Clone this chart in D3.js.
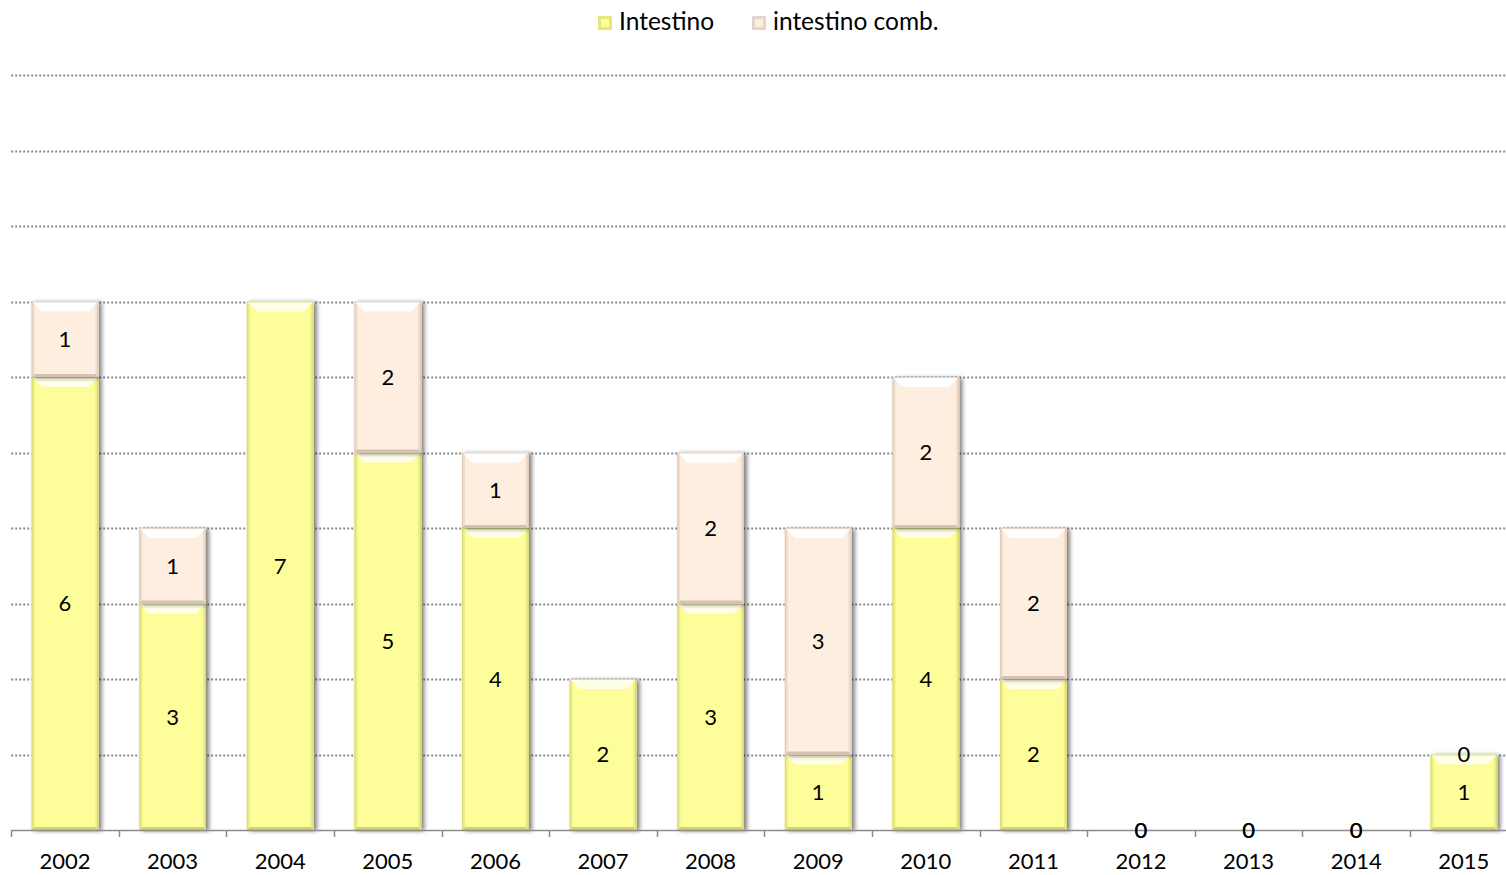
<!DOCTYPE html>
<html>
<head>
<meta charset="utf-8">
<script src="https://cdn.jsdelivr.net/npm/d3@7"></script>
<style>
  html, body { margin: 0; padding: 0; background: #fff; }
  svg text { font-family: Lato, "Open Sans", sans-serif; fill: #000; }
</style>
</head>
<body>
<svg id="chart" width="1506" height="875"></svg>
<script>
// Yearly counts
const years = ["2002","2003","2004","2005","2006","2007","2008","2009","2010","2011","2012","2013","2014","2015"];
const intestino = [6, 3, 7, 5, 4, 2, 3, 1, 4, 2, 0, 0, 0, 1];
const intestinoComb = [1, 1, null, 2, 1, null, 2, 3, 2, 2, 0, 0, 0, 0];
const seriesNames = ["Intestino", "intestino comb."];
const yTicks = [0, 1, 2, 3, 4, 5, 6, 7, 8, 9, 10];

(function () {
const svg = d3.select("#chart");
const plotLeft = 11.2, plotRight = 1517.6, plotBottom = 830, plotTop = 75;

const x = d3.scaleBand().domain(years).range([plotLeft, plotRight]).paddingInner(0.38).paddingOuter(0.19);
const y = d3.scaleLinear().domain([0, 10]).range([plotBottom, plotTop]);

const styles = [
  { base: "#fdfd9a", light: "#ffffe8", side: "#ecec86", dark: "#d2d26a", legend: "#e6e67a" },
  { base: "#fdeee0", light: "#ffffff", side: "#efdccb", dark: "#d6c0ae", legend: "#e2d5cc" }
];

// gridlines
svg.append("g").selectAll("line").data(yTicks.filter(d => d > 0)).join("line")
  .attr("x1", plotLeft).attr("x2", 1506)
  .attr("y1", d => Math.round(y(d)) + 0.5).attr("y2", d => Math.round(y(d)) + 0.5)
  .attr("stroke", "#8a8a8a").attr("stroke-width", 2).attr("stroke-dasharray", "2,2");

// stacked data
const stackRows = years.map((yr, i) => ({ year: yr, a: intestino[i], b: intestinoComb[i] || 0 }));
const stacked = d3.stack().keys(["a", "b"])(stackRows);

const defs = svg.append("defs");
const shadow = defs.append("filter").attr("id", "shadow").attr("x", "-20%").attr("y", "-20%").attr("width", "140%").attr("height", "140%");
shadow.append("feGaussianBlur").attr("in", "SourceAlpha").attr("stdDeviation", 2);
shadow.append("feOffset").attr("dx", 2.5).attr("dy", 1).attr("result", "ob");
shadow.append("feComponentTransfer").append("feFuncA").attr("type", "linear").attr("slope", 0.5);
const merge = shadow.append("feMerge");
merge.append("feMergeNode");
merge.append("feMergeNode").attr("in", "SourceGraphic");

// beveled bar segment
function bevel(g, x0, y0, w, h, st) {
  if (h <= 0) return;
  const b = Math.min(10, h / 2.5), s = 3;
  const seg = g.append("g").attr("filter", "url(#shadow)");
  seg.append("rect").attr("x", x0).attr("y", y0).attr("width", w).attr("height", h).attr("fill", st.base);
  seg.append("polygon").attr("points", [[x0, y0], [x0 + w, y0], [x0 + w - b, y0 + b], [x0 + b, y0 + b]].join(" "))
    .attr("fill", st.light);
  seg.append("polygon").attr("points", [[x0, y0], [x0 + s, y0 + s], [x0 + s, y0 + h - s], [x0, y0 + h]].join(" "))
    .attr("fill", st.side);
  seg.append("polygon").attr("points", [[x0 + w, y0], [x0 + w - s, y0 + s], [x0 + w - s, y0 + h - s], [x0 + w, y0 + h]].join(" "))
    .attr("fill", st.side);
  seg.append("polygon").attr("points", [[x0, y0 + h], [x0 + s, y0 + h - s], [x0 + w - s, y0 + h - s], [x0 + w, y0 + h]].join(" "))
    .attr("fill", st.dark);
  seg.append("rect").attr("x", x0 + 0.5).attr("y", y0 + 0.5).attr("width", w - 1).attr("height", h - 1)
    .attr("fill", "none").attr("stroke", st.dark).attr("stroke-width", 1).attr("stroke-opacity", 0.7);
}

const barsG = svg.append("g");
stacked.forEach((layer, li) => {
  layer.forEach(d => {
    const x0 = x(d.data.year), w = x.bandwidth();
    const y0 = y(d[1]), h = y(d[0]) - y(d[1]);
    bevel(barsG, x0, y0, w, h, styles[li]);
  });
});

// category axis
const axisG = svg.append("g");
axisG.append("line").attr("x1", plotLeft).attr("x2", 1506).attr("y1", plotBottom + 0.5).attr("y2", plotBottom + 0.5)
  .attr("stroke", "#8c8c8c").attr("stroke-width", 1.5);
const boundaries = years.map(yr => x(yr) - x.step() * x.paddingInner() / 2);
axisG.selectAll("line.tick").data(boundaries).join("line").attr("class", "tick")
  .attr("x1", d => Math.round(d) + 0.5).attr("x2", d => Math.round(d) + 0.5)
  .attr("y1", plotBottom).attr("y2", plotBottom + 7).attr("stroke", "#8c8c8c").attr("stroke-width", 1.5);
axisG.selectAll("text").data(years).join("text")
  .attr("x", d => x(d) + x.bandwidth() / 2).attr("y", 869)
  .attr("text-anchor", "middle").attr("font-size", 22).text(d => d);

// value labels
const labelsG = svg.append("g");
stacked.forEach((layer, li) => {
  layer.forEach((d, i) => {
    const raw = li === 0 ? intestino[i] : intestinoComb[i];
    if (raw === null) return;
    const cy = (y(d[0]) + y(d[1])) / 2;
    labelsG.append("text")
      .attr("x", x(d.data.year) + x.bandwidth() / 2).attr("y", cy)
      .attr("dy", "0.36em").attr("text-anchor", "middle").attr("font-size", 22)
      .text(raw);
  });
});

// legend
const legend = svg.append("g");
const legendItems = [{ name: seriesNames[0], x: 598 }, { name: seriesNames[1], x: 752 }];
legendItems.forEach((it, i) => {
  const st = styles[i];
  legend.append("rect").attr("x", it.x).attr("y", 16).attr("width", 14).attr("height", 14).attr("fill", st.legend);
  legend.append("rect").attr("x", it.x + 3).attr("y", 19).attr("width", 8).attr("height", 8).attr("fill", st.base);
  legend.append("text").attr("x", it.x + 21).attr("y", 30).attr("font-size", 24.5).text(it.name);
});
})();
</script>
</body>
</html>
